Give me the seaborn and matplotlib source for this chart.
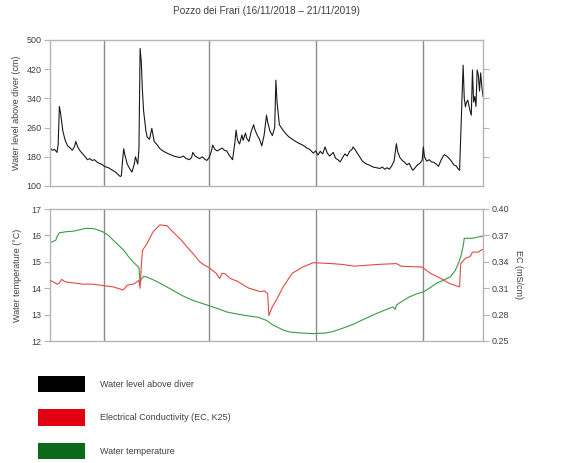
import numpy as np
import pandas as pd
import matplotlib
matplotlib.use("Agg")
import matplotlib.pyplot as plt
import matplotlib.dates as mdates
from matplotlib.patches import Patch
import seaborn as sns

sns.set_style("white")
plt.rcParams['font.family'] = ['Liberation Sans', 'DejaVu Sans']

START = pd.Timestamp("2018-11-16")
END = pd.Timestamp("2019-11-21")

# Water level above diver (cm): day offset from 16/11/2018, value
wl_days = [0, 2, 4, 6, 7, 8, 9, 11, 13, 15, 17, 19, 21, 22, 24, 26, 28, 30, 32, 34, 36, 38, 40, 42,
           44, 46, 48, 50, 52, 54, 56, 58, 60, 61, 62, 63, 64, 66, 68, 70, 72, 73, 74, 75, 76, 77,
           78, 79, 80, 82, 83, 85, 87, 88, 89, 91, 94, 97, 100, 103, 105, 108, 111, 114, 116, 119,
           121, 122, 124, 126, 128, 130, 132, 134, 136, 138, 139, 141, 143, 145, 147, 149, 151, 153,
           156, 158, 159, 160, 161, 162, 164, 165, 167, 168, 170, 172, 174, 175, 177, 179, 181, 183,
           185, 186, 188, 190, 192, 193, 194, 196, 198, 201, 204, 208, 212, 216, 219, 222, 225, 227,
           229, 231, 233, 235, 237, 239, 242, 244, 246, 248, 250, 252, 254, 256, 258, 259, 261, 263,
           265, 267, 270, 273, 276, 279, 282, 284, 286, 288, 290, 292, 294, 296, 297, 299, 301, 303,
           305, 307, 309, 310, 312, 314, 316, 318, 319, 320, 322, 324, 326, 328, 330, 332, 334, 336,
           337, 339, 341, 343, 345, 347, 349, 350, 351, 352, 353, 354, 355, 356, 357, 358, 359, 360,
           361, 362, 363, 364, 365, 366, 367, 368, 369, 370]
wl_vals = [205, 198, 200, 192, 215, 318, 300, 250, 225, 210, 205, 198, 208, 222, 205, 195, 188, 180,
           172, 175, 170, 172, 166, 162, 160, 155, 152, 150, 146, 142, 138, 132, 126, 128, 170, 202,
           185, 160, 148, 138, 160, 180, 170, 160, 200, 477, 440, 360, 305, 250, 234, 228, 258, 240,
           222, 215, 202, 195, 190, 186, 183, 180, 178, 182, 176, 172, 178, 192, 182, 178, 175, 180,
           174, 170, 178, 196, 212, 200, 196, 200, 204, 198, 196, 185, 172, 220, 253, 230, 220, 215,
           240, 225, 245, 232, 222, 250, 268, 255, 240, 228, 210, 240, 294, 275, 250, 238, 260, 390,
           330, 268, 258, 245, 235, 226, 218, 212, 205, 200, 190, 196, 185, 195, 188, 207, 190, 182,
           192, 176, 172, 166, 178, 188, 182, 195, 200, 207, 198, 188, 178, 168, 161, 157, 152, 150,
           148, 152, 146, 150, 146, 155, 168, 216, 195, 178, 170, 165, 158, 162, 148, 143, 150, 158,
           162, 170, 207, 180, 168, 172, 166, 165, 160, 154, 170, 182, 186, 182, 176, 168, 158, 155,
           146, 143, 240, 335, 431, 340, 317, 330, 335, 320, 305, 294, 418, 330, 345, 318, 418, 405,
           360, 410, 372, 345]

# Water temperature (°C)
wt_days = [0, 3, 5, 6, 8, 14, 20, 24, 31, 38, 45, 50, 54, 58, 63, 67, 71, 76, 77, 78, 80, 83, 90, 97,
           105, 113, 122, 135, 145, 151, 160, 171, 178, 185, 190, 194, 200, 205, 215, 225, 235, 240,
           246, 253, 260, 266, 272, 279, 286, 293, 295, 296, 300, 307, 313, 319, 325, 330, 336, 342,
           346, 349, 351, 353, 354, 360, 362, 367, 370]
wt_vals = [15.72, 15.78, 15.82, 15.95, 16.10, 16.14, 16.16, 16.20, 16.27, 16.25, 16.14, 16.0, 15.82,
           15.65, 15.44, 15.2, 15.0, 14.78, 14.2, 14.35, 14.45, 14.42, 14.28, 14.12, 13.92, 13.72,
           13.54, 13.35, 13.2, 13.1, 13.02, 12.94, 12.9, 12.78, 12.62, 12.53, 12.4, 12.34, 12.30,
           12.28, 12.30, 12.34, 12.42, 12.53, 12.65, 12.78, 12.9, 13.04, 13.17, 13.29, 13.2, 13.36,
           13.48, 13.67, 13.78, 13.86, 14.02, 14.18, 14.3, 14.43, 14.65, 14.94, 15.2, 15.57, 15.89,
           15.89, 15.9, 15.95, 15.97]

# Electrical Conductivity (mS/cm)
ec_days = [0, 3, 6, 8, 10, 12, 14, 20, 28, 36, 43, 54, 60, 62, 64, 66, 72, 76, 77, 78, 79, 83, 88,
           94, 100, 105, 112, 117, 123, 128, 131, 135, 138, 142, 145, 147, 150, 154, 160, 166, 170,
           175, 180, 183, 186, 187, 190, 194, 199, 207, 216, 225, 240, 250, 260, 270, 280, 296, 300,
           318, 325, 334, 342, 350, 351, 355, 359, 361, 366, 368, 370]
ec_vals = [0.319, 0.317, 0.3146, 0.316, 0.320, 0.318, 0.317, 0.316, 0.3146, 0.3146, 0.3134, 0.3115,
           0.309, 0.3077, 0.310, 0.3134, 0.3150, 0.319, 0.310, 0.335, 0.353, 0.361, 0.374, 0.382,
           0.381, 0.374, 0.365, 0.357, 0.348, 0.340, 0.337, 0.334, 0.331, 0.327, 0.321, 0.327, 0.326,
           0.321, 0.318, 0.313, 0.310, 0.308, 0.306, 0.307, 0.304, 0.279, 0.289, 0.298, 0.311, 0.327,
           0.334, 0.339, 0.338, 0.337, 0.335, 0.336, 0.337, 0.338, 0.335, 0.334, 0.327, 0.321, 0.315,
           0.3115, 0.338, 0.344, 0.346, 0.351, 0.351, 0.353, 0.354]

quarter_lines = ["2019-01-01", "2019-04-01", "2019-07-01", "2019-10-01"]
level_ticks = [100, 180, 260, 340, 420, 500]
temp_ticks = [12, 13, 14, 15, 16, 17]
ec_ticks = [0.25, 0.28, 0.31, 0.34, 0.37, 0.40]

wl = pd.DataFrame({"date": START + pd.to_timedelta(wl_days, unit="D"), "level": wl_vals})
wt = pd.DataFrame({"date": START + pd.to_timedelta(wt_days, unit="D"), "temp": wt_vals})
ec = pd.DataFrame({"date": START + pd.to_timedelta(ec_days, unit="D"), "ec": ec_vals})

C_LEVEL = "#1a1a1a"
C_EC = "#e24a46"
C_TEMP = "#3a9a45"
GRID = "#8c8c8c"
SPINE = "#b5b5b5"
TXT = "#404040"

fig = plt.figure(figsize=(5.78, 4.63), dpi=100)
ax1 = fig.add_axes([50/578, 1-186/463, 433/578, 146/463])
ax2 = fig.add_axes([50/578, 1-341/463, 433/578, 132/463])

def style_axis(ax):
    ax.set_xlim(START, END)
    ax.set_xticks([pd.Timestamp(d) for d in quarter_lines])
    ax.xaxis.set_major_formatter(plt.NullFormatter())
    ax.tick_params(axis="x", length=5, color=GRID, width=1, direction="out")
    ax.grid(axis="x", color=GRID, lw=1)
    ax.grid(axis="y", visible=False)
    for s in ax.spines.values():
        s.set_color(SPINE)
        s.set_linewidth(1)
    ax.tick_params(axis="y", length=4, color=SPINE, labelsize=6.5, labelcolor=TXT, direction="out", pad=2)
    ax.set_xlabel("")

sns.lineplot(data=wl, x="date", y="level", ax=ax1, color=C_LEVEL, lw=0.8)
style_axis(ax1)
ax1.set_ylim(100, 500)
ax1.set_yticks(level_ticks)
ax1.set_ylabel("Water level above diver (cm)", fontsize=6.5, color=TXT, labelpad=4)
ax1r = ax1.twinx()
ax1r.set_ylim(100, 500)
ax1r.set_yticks(level_ticks[1:-1])
ax1r.yaxis.set_major_formatter(plt.NullFormatter())
ax1r.tick_params(axis="y", length=4, color=SPINE)
for s in ax1r.spines.values():
    s.set_visible(False)
ax1.set_title("Pozzo dei Frari (16/11/2018 \u2013 21/11/2019)", fontsize=7.2, color=TXT, pad=19)

sns.lineplot(data=wt, x="date", y="temp", ax=ax2, color=C_TEMP, lw=0.8)
style_axis(ax2)
ax2.set_ylim(12, 17)
ax2.set_yticks(temp_ticks)
ax2.set_ylabel("Water temperature (\u00b0C)", fontsize=6.5, color=TXT, labelpad=7)

ax2r = ax2.twinx()
sns.lineplot(data=ec, x="date", y="ec", ax=ax2r, color=C_EC, lw=0.8)
ax2r.set_xlim(START, END)
ax2r.set_ylim(0.25, 0.40)
ax2r.set_yticks(ec_ticks)
ax2r.yaxis.set_major_formatter(matplotlib.ticker.FormatStrFormatter("%.2f"))
ax2r.tick_params(axis="y", length=4, color=SPINE, labelsize=6.5, labelcolor=TXT, pad=2)
for s in ax2r.spines.values():
    s.set_visible(False)
ax2r.set_ylabel("EC (mS/cm)", fontsize=6.5, color=TXT, rotation=270, labelpad=10)
ax2r.set_xlabel("")

handles = [Patch(facecolor="#000000", edgecolor="none"),
           Patch(facecolor="#e00010", edgecolor="none"),
           Patch(facecolor="#0a6a1a", edgecolor="none")]
labels = ["Water level above diver", "Electrical Conductivity (EC, K25)", "Water temperature"]
fig.legend(handles, labels, loc="upper left", bbox_to_anchor=(38/578, 1-376/463), frameon=False,
           fontsize=6.5, handlelength=5.2, handleheight=2.4, labelspacing=1.9, handletextpad=1.7,
           labelcolor=TXT, borderaxespad=0, borderpad=0)

fig.savefig("out.png", dpi=100)
